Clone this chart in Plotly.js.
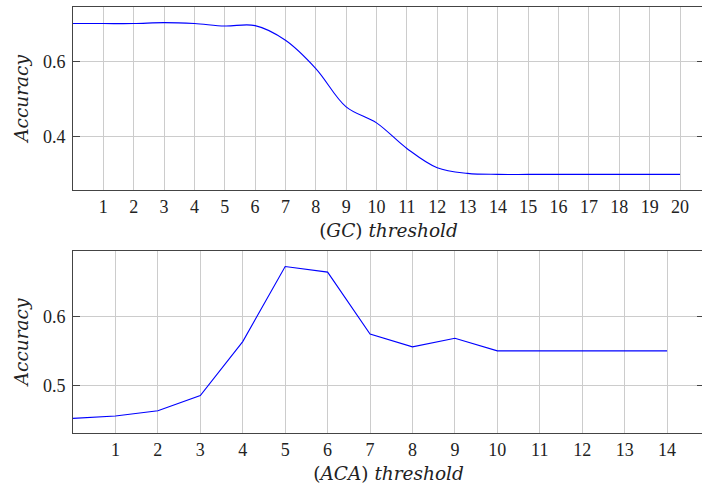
<!DOCTYPE html>
<html>
<head>
<meta charset="utf-8">
<script src="https://cdn.plot.ly/plotly-3.0.1.min.js"></script>
<style>html,body{margin:0;padding:0;overflow:hidden;background:#fff}</style>
</head>
<body>
<div id="chart" style="width:704px;height:485px"></div>
<script>
// GC threshold vs accuracy (top)
const gcThreshold = [0,1,2,3,4,5,6,7,8,9,10,11,12,13,14,15,16,17,18,19,20];
const gcAccuracy  = [0.701,0.701,0.701,0.7035,0.701,0.6945,0.6955,0.6566,0.5814,0.4795,0.437,0.369,0.3177,0.3028,0.3,0.3,0.3,0.3,0.3,0.3,0.3];
const gcTicks = [1,2,3,4,5,6,7,8,9,10,11,12,13,14,15,16,17,18,19,20];

// ACA threshold vs accuracy (bottom)
const acaThreshold = [0,1,2,3,4,5,6,7,8,9,10,11,12,13,14];
const acaAccuracy  = [0.453,0.4565,0.4641,0.486,0.5636,0.6717,0.6636,0.5746,0.556,0.5684,0.5502,0.5502,0.5502,0.5502,0.5502];
const acaTicks = [1,2,3,4,5,6,7,8,9,10,11,12,13,14];

const tickFont = {family: 'Liberation Serif, Times New Roman, serif', size: 18, color: '#222'};
const titleFont = {family: 'DejaVu Serif, serif', size: 18.5, color: '#222'};
const gridColor = '#cccccc';
const axisColor = '#444444';

function xAxis(range, ticks, anchor, titleText) {
  return {
    anchor: anchor, range: range, tickmode: 'array', tickvals: ticks,
    showgrid: true, gridcolor: gridColor, gridwidth: 1,
    showline: true, linecolor: axisColor, linewidth: 1, mirror: true,
    ticks: '', zeroline: false, tickfont: tickFont, ticklabelstandoff: 0,
    title: {text: titleText, font: titleFont, standoff: 8}
  };
}
function yAxis(range, dtick, domain, anchor) {
  return {
    anchor: anchor, domain: domain, range: range, dtick: dtick, tick0: 0,
    showgrid: true, gridcolor: gridColor, gridwidth: 1,
    showline: true, linecolor: axisColor, linewidth: 1, mirror: 'ticks',
    ticks: 'inside', ticklen: 7, tickcolor: axisColor, zeroline: false,
    tickfont: tickFont, ticklabelstandoff: 3,
    title: {text: '<i>Accuracy</i>', font: titleFont, standoff: 9}
  };
}

const traces = [
  {x: gcThreshold, y: gcAccuracy, xaxis: 'x', yaxis: 'y', mode: 'lines',
   line: {color: '#0000ff', width: 1.1, shape: 'spline', smoothing: 1}, showlegend: false},
  {x: acaThreshold, y: acaAccuracy, xaxis: 'x2', yaxis: 'y2', mode: 'lines',
   line: {color: '#0000ff', width: 1.1}, showlegend: false}
];

const layout = {
  width: 704, height: 485,
  margin: {l: 73, r: 0, t: 7, b: 52},
  paper_bgcolor: '#ffffff', plot_bgcolor: '#ffffff',
  xaxis: xAxis([0, 20.79], gcTicks, 'y', '(<i>GC</i>) <i>threshold</i>'),
  yaxis: yAxis([0.2585, 0.745], 0.2, [0.5704, 1], 'x'),
  xaxis2: xAxis([0, 14.87], acaTicks, 'y2', '(<i>ACA</i>) <i>threshold</i>'),
  yaxis2: yAxis([0.432, 0.694], 0.1, [0, 0.4272], 'x2')
};

Plotly.newPlot('chart', traces, layout, {displayModeBar: false, staticPlot: true});
</script>
</body>
</html>
